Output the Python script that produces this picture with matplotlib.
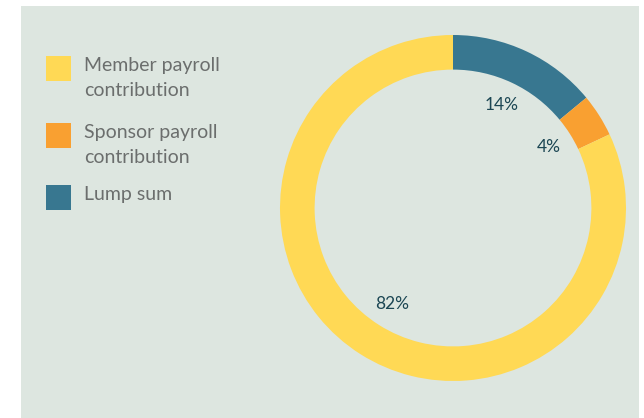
import matplotlib.pyplot as plt
from matplotlib.patches import Rectangle

# data, clockwise from 12 o'clock
slice_labels = ['Lump sum', 'Sponsor payroll\ncontribution', 'Member payroll\ncontribution']
slice_values = [14, 4, 82]
slice_colors = ['#387790', '#f9a031', '#ffd955']

legend_order = [2, 1, 0]

bg = '#dde6e0'
W, H = 644, 418

fig = plt.figure(figsize=(W / 100, H / 100), dpi=100)
fig.patch.set_facecolor('white')
fig.patches.append(Rectangle((21 / W, 0), 618 / W, 412 / H, transform=fig.transFigure,
                             facecolor=bg, edgecolor='none', zorder=-10))

ax = fig.add_axes([280 / W, 37 / H, 346 / W, 346 / H])
wedges, texts, autotexts = ax.pie(slice_values, colors=slice_colors, startangle=90,
                                  counterclock=False, radius=1,
                                  wedgeprops=dict(width=0.2, linewidth=0),
                                  autopct='%d%%', pctdistance=0.655,
                                  textprops=dict(color='#1b4653', fontsize=12.5,
                                                 family='Lato'))
ax.set_xlim(-1, 1)
ax.set_ylim(-1, 1)
ax.set_aspect('equal')
ax.axis('off')

# hand-made legend: square aligned with first text line
item_tops = [56, 123, 185]
for top, i in zip(item_tops, legend_order):
    fig.patches.append(Rectangle((46 / W, 1 - (top + 25) / H), 25 / W, 25 / H,
                                 transform=fig.transFigure, facecolor=slice_colors[i],
                                 edgecolor='none'))
    fig.text(84 / W, 1 - (top + 1) / H, slice_labels[i], ha='left', va='top',
             fontsize=14, family='Lato', color='#6b6e6d', linespacing=1.6)

fig.savefig('out.png', dpi=100, facecolor='white')
